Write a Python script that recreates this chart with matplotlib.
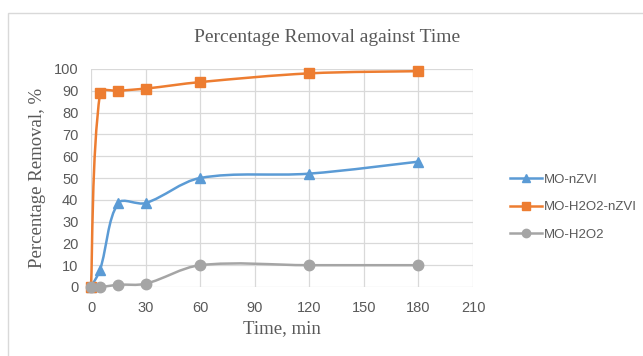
import numpy as np
import matplotlib.pyplot as plt
from matplotlib.path import Path
from matplotlib.patches import PathPatch, Rectangle
from matplotlib.lines import Line2D

time_min = [0, 5, 15, 30, 60, 120, 180]
mo_nzvi = [0, 8, 38.5, 38.5, 50, 52, 57.5]
mo_h2o2_nzvi = [0, 89, 90, 91, 94, 98, 99]
mo_h2o2 = [0, 0, 1, 1.5, 10, 10, 10]

series = [
    ("MO-nZVI", mo_nzvi, "#5B9BD5", "^"),
    ("MO-H2O2-nZVI", mo_h2o2_nzvi, "#ED7D31", "s"),
    ("MO-H2O2", mo_h2o2, "#A5A5A5", "o"),
]

text_color = "#595959"
grid_color = "#D9D9D9"

# pixel size of one data unit, used only to measure segment lengths
PX_X = 382 / 210
PX_Y = 218 / 100


def smooth_path(x, y):
    # Excel-like smoothing: cubic Bezier, tangents weighted by segment length
    pts = np.column_stack([x, y]).astype(float)
    scale = np.array([PX_X, PX_Y])
    n = len(pts)

    def dist(a, b):
        return np.hypot(*((b - a) * scale))

    verts = [pts[0]]
    codes = [Path.MOVETO]
    for i in range(n - 1):
        p0 = pts[i - 1] if i > 0 else pts[i]
        p1 = pts[i]
        p2 = pts[i + 1]
        p3 = pts[i + 2] if i + 2 < n else pts[i + 1]
        d01, d12, d23 = dist(p0, p1), dist(p1, p2), dist(p2, p3)
        f1 = d12 / (d01 + d12) / 3.0 if d01 > 0 else 1 / 6.0
        f2 = d12 / (d12 + d23) / 3.0 if d23 > 0 else 1 / 6.0
        c1 = p1 + (p2 - p0) * f1
        c2 = p2 - (p3 - p1) * f2
        verts += [c1, c2, p2]
        codes += [Path.CURVE4] * 3
    return Path(verts, codes)


fig = plt.figure(figsize=(6.43, 3.56), dpi=100)
fig.patches.append(Rectangle((8 / 643, -0.05), 1.0, (356 - 13) / 356 + 0.05,
                             transform=fig.transFigure, fill=False,
                             edgecolor="#D9D9D9", linewidth=1.0))

ax = fig.add_axes([91 / 643, (356 - 287) / 356, (473 - 91) / 643, (287 - 69) / 356])

handles = []
for label, vals, color, marker in series:
    patch = PathPatch(smooth_path(time_min, vals), facecolor="none",
                      edgecolor=color, linewidth=1.8, zorder=3, clip_on=False)
    ax.add_patch(patch)
    ax.plot(time_min, vals, linestyle="none", marker=marker, color=color,
            markersize=7.5, zorder=4, clip_on=False)
    handles.append(Line2D([], [], color=color, linewidth=1.8, marker=marker,
                          markersize=6, label=label))

ax.set_xlim(0, 210)
ax.set_ylim(0, 100)
ax.set_xticks(np.arange(0, 211, 30))
ax.set_yticks(np.arange(0, 101, 10))
ax.grid(True, color=grid_color, linewidth=0.9)
ax.set_axisbelow(True)
for s in ax.spines.values():
    s.set_visible(False)
ax.tick_params(length=0, colors=text_color, labelsize=10.5)
ax.tick_params(axis="x", pad=10)
ax.tick_params(axis="y", pad=9)
for lab in ax.get_xticklabels() + ax.get_yticklabels():
    lab.set_fontfamily("Liberation Sans")

serif = "Liberation Serif"
fig.text(327 / 643, 1 - 38 / 356, "Percentage Removal against Time",
         ha="center", va="center", fontsize=14, family=serif, color=text_color)
ax.set_xlabel("Time, min", fontsize=13.5, family=serif, color=text_color, labelpad=4)
ax.set_ylabel("Percentage Removal, %", fontsize=13.5, family=serif,
              color=text_color, labelpad=6)

leg = fig.legend(handles=handles, loc="center left",
                 bbox_to_anchor=(498 / 643, 1 - 207 / 356), frameon=False,
                 prop={"family": "Liberation Sans", "size": 9.5},
                 handlelength=2.4, labelspacing=1.15, handletextpad=0.2)
for t in leg.get_texts():
    t.set_color(text_color)

fig.savefig("out.png", dpi=100)
